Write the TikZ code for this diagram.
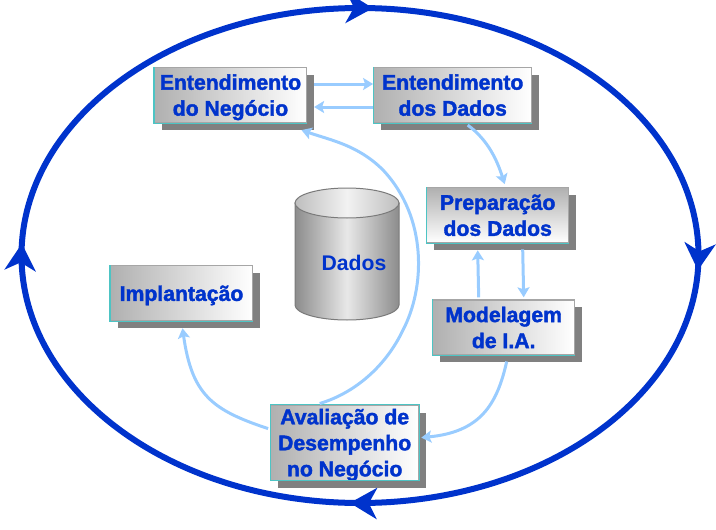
\documentclass[tikz,border=0pt]{standalone}
\usepackage{fontspec}
\setmainfont{Liberation Sans}
\usepackage{tikz}
\usetikzlibrary{positioning}
\usetikzlibrary{arrows.meta}
\usetikzlibrary{shadows}
\usetikzlibrary{decorations.markings}

\definecolor{cycleblue}{HTML}{0033CC}
\definecolor{flowblue}{HTML}{99CCFF}
\definecolor{boxgray}{HTML}{B0B0B0}
\definecolor{boxshadow}{HTML}{808080}
\definecolor{boxedge}{HTML}{A6A6A6}
\definecolor{boxteal}{HTML}{4DC4C4}
\definecolor{drumdark}{HTML}{8C8C8C}
\definecolor{drumlight}{HTML}{E8E8E8}
\definecolor{lidside}{HTML}{BEBEBE}
\definecolor{lidmid}{HTML}{F2F2F2}
\definecolor{drumedge}{HTML}{7A7A7A}

\tikzset{
    phase/.style={minimum height=55pt, align=center, text=cycleblue, inner sep=0pt, text depth=-2pt,
        font=\fontsize{21.2}{26}\selectfont\bfseries\special{pdf:code 2 Tr 0.4 w 0 0.8 0.95 RG},
        draw=boxedge, line width=1.2pt, left color=boxgray, right color=white,
        general shadow={shadow xshift=7pt, shadow yshift=-7.5pt, fill=boxshadow, draw=none}},
    flow/.style={draw=flowblue, line width=3pt, -{Stealth[length=10pt,width=12pt,inset=2pt]}},
    edge/.style={draw=boxteal, line width=1.2pt},
    cycletip/.tip={Stealth[length=27pt,width=31pt,inset=8pt]},
}

\begin{document}
\begin{tikzpicture}[x=1pt, y=-1pt]
    \useasboundingbox (0,0) rectangle (716,530);

    \draw [cycleblue, line width=6pt,
        decoration={markings,
            mark=at position 0.008 with {\arrow{cycletip}},
            mark=at position 0.2555 with {\arrow{cycletip}},
            mark=at position 0.5065 with {\arrow{cycletip}},
            mark=at position 0.757 with {\arrow{cycletip}}},
        postaction={decorate}]
        (360,255.5) ellipse [x radius=338.5, y radius=247.5];

    % cylinder
    \path [draw=drumedge, line width=1pt, left color=drumdark, right color=drumdark, middle color=drumlight]
        (295,203) -- (295,305) arc [start angle=180, end angle=360, x radius=52, y radius=-15] -- (399,203) -- cycle;
    \path [draw=drumedge, line width=1pt, left color=lidside, right color=lidside, middle color=lidmid]
        (347,203) ellipse [x radius=52, y radius=15];

    \node [phase, minimum width=152pt] (entneg) at (230.5,95) {Entendimento\\do Negócio};
    \node [phase, minimum width=158pt, right=66pt of entneg] (entdad) {Entendimento\\dos Dados};
    \node [phase, minimum width=142pt, below=64pt of entdad, xshift=45pt,
        top color=boxgray, bottom color=white] (prep) {Preparação\\dos Dados};
    \node [phase, minimum width=142pt, below=56pt of prep, xshift=6pt] (model) {Modelagem\\de I.A.};
    \node [phase, minimum width=148pt, minimum height=75pt, below=49pt of model, xshift=-159pt] (aval)
        {Avaliação de\\Desempenho\\no Negócio};
    \node [phase, minimum width=142pt, below=142pt of entneg, xshift=-49pt] (impl) {Implantação};
    \node [text=cycleblue, font=\fontsize{21.2}{26}\selectfont\bfseries\special{pdf:code 0 Tr}] (dados) at (354,263) {Dados};

    % teal on the left and lower edges
    \foreach \n in {entneg,entdad,prep,model,aval,impl}
        \draw [edge] (\n.north west) |- (\n.south east);
    \draw [edge] (aval.south east) |- (aval.north west);

    \draw [flow] ([xshift=7pt,yshift=11pt]entneg.east) -- ([yshift=11pt]entdad.west);
    \draw [flow] ([yshift=-12pt]entdad.west) -- ([xshift=7pt,yshift=-12pt]entneg.east);
    \draw [flow] ([xshift=15pt,yshift=-2pt]entdad.south) .. controls (488,140) and (497,160) .. ([xshift=7pt,yshift=3pt]prep.north);
    \draw [flow] ([xshift=-25pt,yshift=2pt]model.north) -- ([xshift=-20pt,yshift=-7pt]prep.south);
    \draw [flow] ([xshift=25pt,yshift=-6pt]prep.south) -- ([xshift=20pt,yshift=2pt]model.north);
    \draw [flow] ([xshift=3pt,yshift=-6pt]model.south) .. controls (497,405) and (480,432) .. ([xshift=2pt,yshift=5pt]aval.east);
    \draw [flow] ([xshift=-2pt,yshift=14pt]aval.west) .. controls (212,410) and (192,395) .. ([xshift=1pt,yshift=-7pt]impl.south);
    \draw [flow] ([xshift=-25pt,yshift=1pt]aval.north) .. controls (355,393) and (386,366) .. (403,330)
        .. controls (425,288) and (428,218) .. (383,170) .. controls (358,145) and (330,140) .. ([xshift=71pt,yshift=-7pt]entneg.south);
\end{tikzpicture}
\end{document}
